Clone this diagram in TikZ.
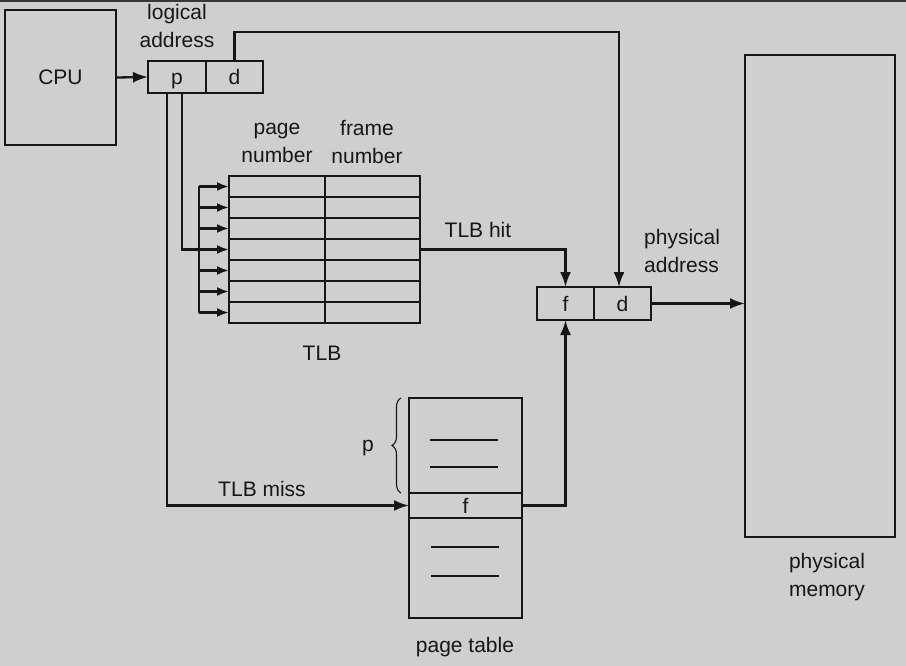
\documentclass[tikz,border=0pt]{standalone}
\usepackage{fontspec}
\setmainfont{Liberation Sans}
\usetikzlibrary{arrows.meta,decorations.pathreplacing,calc}
\definecolor{bg}{RGB}{207,207,207}
\definecolor{ink}{RGB}{22,22,22}
\begin{document}
\begin{tikzpicture}[x=1pt,y=-1pt,
  every node/.style={font=\fontsize{21}{28}\selectfont, text=ink},
  box/.style={draw=ink, line width=1.9pt, inner sep=0pt, outer sep=0pt},
  field/.style={box, text height=15pt, text depth=0pt},
  cell/.style={draw=ink, line width=1.5pt, inner sep=0pt, outer sep=0pt},
  lbl/.style={align=center, inner sep=0pt},
  conn/.style={draw=ink, line width=2.3pt},
  arr/.style={conn, -{Latex[length=15pt,width=11pt]}},
  busarr/.style={conn, -{Latex[length=12pt,width=9pt]}},
]
\fill[bg] (0,0) rectangle (906,666);
\fill[black!78] (0,0) rectangle (906,2.5);
\useasboundingbox (0,0) rectangle (906,666);

% CPU and logical address
\node[box, minimum width=111pt, minimum height=135pt] (cpu) at (60.5,77.5) {CPU};
\node[field, minimum width=58pt, minimum height=32pt] (p) at (177,77) {p};
\node[field, minimum width=57pt, minimum height=32pt] (d) at (234.5,77) {d};
\node[lbl] (lalbl) at (177,26) {logical\\address};

% TLB
\foreach \i in {1,...,7}{
  \pgfmathsetmacro\yy{186.5+21*(\i-1)}
  \node[cell, minimum width=96pt, minimum height=21pt] (r\i) at (277,\yy) {};
  \node[cell, minimum width=95pt, minimum height=21pt] (c\i) at (372.5,\yy) {};
  \coordinate (b\i) at (199,\yy);
  \draw[busarr] (b\i) -- (r\i.west);
}
\draw[conn] (b1) -- (b7);
\node[lbl] (pnlbl) at (277,142.5) {page\\number};
\node[lbl] (fnlbl) at (367,142.5) {frame\\number};
\node[lbl] (tlblbl) at (322,353) {TLB};

% physical address
\node[field, minimum width=57pt, minimum height=33pt] (f) at (565.5,303.5) {f};
\node[field, minimum width=57pt, minimum height=33pt] (d2) at (622.5,303.5) {d};
\node[lbl, align=left, anchor=west] (palbl) at (644,251) {physical\\address};

% physical memory
\node[box, minimum width=150pt, minimum height=482pt] (mem) at (820,296) {};
\node[lbl] (pmlbl) at (827,577) {physical\\memory};

% page table
\node[box, minimum width=113pt, minimum height=95pt] (ptop) at (465.5,445.5) {};
\node[field, minimum width=113pt, minimum height=25pt] (frow) at (465.5,505.5) {f};
\node[box, minimum width=113pt, minimum height=100pt] (pbot) at (465.5,568) {};
\draw[conn, line width=1.8pt] (430,440) -- (498,440);
\draw[conn, line width=1.8pt] (430,467) -- (498,467);
\draw[conn, line width=1.8pt] (431,547) -- (499,547);
\draw[conn, line width=1.8pt] (431,576) -- (499,576);
\draw[ink, line width=1.1pt, decorate, decoration={brace, amplitude=9pt}] (401,493) -- (401,398);
\node[lbl] (plbl) at (368,448) {p};
\node[lbl] (ptlbl) at (465,647) {page table};

% connectors
\coordinate (pa) at (167,93);
\coordinate (pb) at (182,93);
\coordinate (dc) at (619,32);
\draw[arr] (cpu.east) -- (p.west);
\draw[conn] (pb) |- (b4);
\draw[arr] (pa) |- (frow.west);
\draw[arr] (d.north) |- (dc) -- (dc |- d2.north);
\draw[arr] (c4.east) -| (f.north);
\draw[arr] (frow.east) -| (f.south);
\draw[arr] (d2.east) -- (d2.east -| mem.west);
\node[lbl] (hitlbl) at (478,230) {TLB hit};
\node[lbl] (misslbl) at (262,489) {TLB miss};
\end{tikzpicture}
\end{document}
